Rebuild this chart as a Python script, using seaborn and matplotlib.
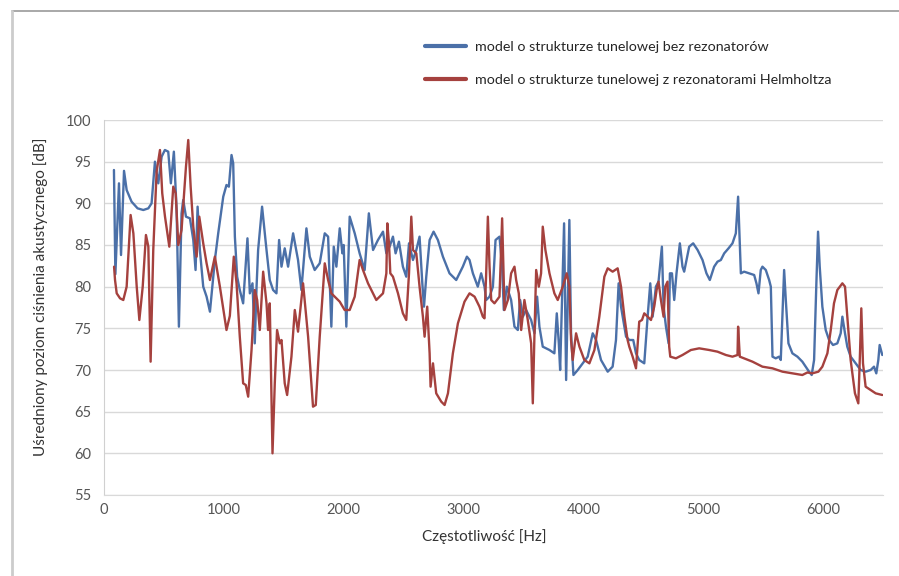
import numpy as np
import pandas as pd
import matplotlib
matplotlib.use("Agg")
import matplotlib.pyplot as plt
from matplotlib.lines import Line2D
import seaborn as sns

# ---- data ----
blue_f = [83, 95, 125, 142, 167, 189, 230, 280, 328, 370, 397, 425, 453, 481, 508, 536, 558, 583,
          606, 625, 647, 661, 684, 717, 745, 764, 781, 800, 828, 856, 884, 925, 953, 995, 1022,
          1042, 1064, 1078, 1092, 1111, 1133, 1161, 1197, 1217, 1239, 1258, 1273, 1286, 1319,
          1356, 1383, 1411, 1439, 1461, 1481, 1508, 1536, 1578, 1619, 1647, 1689, 1717, 1758,
          1800, 1842, 1870, 1897, 1917, 1939, 1967, 1989, 2000, 2022, 2050, 2092, 2133, 2175,
          2210, 2245, 2286, 2328, 2356, 2383, 2411, 2433, 2461, 2494, 2522, 2545, 2578, 2606,
          2633, 2656, 2670, 2689, 2717, 2750, 2786, 2828, 2883, 2939, 2994, 3028, 3050, 3078,
          3119, 3147, 3175, 3189, 3217, 3245, 3267, 3300, 3322, 3336, 3361, 3397, 3425, 3453,
          3472, 3495, 3522, 3564, 3592, 3614, 3633, 3661, 3717, 3758, 3778, 3795, 3806, 3822,
          3839, 3856, 3870, 3883, 3897, 3917, 3953, 3994, 4036, 4078, 4106, 4147, 4203, 4244,
          4272, 4294, 4314, 4356, 4383, 4416, 4439, 4466, 4508, 4536, 4558, 4578, 4605, 4627,
          4655, 4669, 4689, 4711, 4722, 4739, 4758, 4777, 4805, 4827, 4841, 4883, 4916, 4953,
          4994, 5027, 5055, 5091, 5119, 5147, 5175, 5211, 5244, 5272, 5291, 5314, 5341, 5383,
          5425, 5444, 5461, 5480, 5494, 5522, 5550, 5564, 5578, 5605, 5633, 5647, 5666, 5675,
          5689, 5711, 5744, 5786, 5827, 5855, 5883, 5905, 5925, 5944, 5958, 5972, 5994, 6022,
          6050, 6083, 6119, 6147, 6161, 6183, 6202, 6230, 6272, 6314, 6355, 6397, 6425, 6444,
          6461, 6472, 6494]
blue_db = [94.0, 81.5, 92.4, 83.8, 93.9, 91.6, 90.2, 89.4, 89.2, 89.4, 90.0, 95.0, 92.4, 95.6, 96.4,
           96.2, 92.4, 96.2, 89.2, 75.2, 88.8, 90.4, 88.4, 88.2, 85.6, 82.0, 89.6, 84.4, 80.0, 78.8,
           77.0, 83.2, 86.4, 90.8, 92.2, 92.0, 95.8, 94.8, 86.0, 81.2, 79.6, 78.0, 85.8, 79.2, 80.4,
           73.2, 80.0, 84.4, 89.6, 84.4, 80.8, 79.6, 79.2, 85.6, 82.4, 84.6, 82.4, 86.4, 83.2, 79.6,
           87.0, 83.6, 82.0, 82.8, 86.4, 86.0, 75.2, 84.8, 82.4, 87.0, 84.0, 85.0, 75.2, 88.4, 86.4,
           84.0, 82.0, 88.8, 84.4, 85.6, 86.6, 84.0, 84.8, 86.0, 84.0, 85.4, 82.4, 81.2, 85.2, 83.2,
           84.4, 86.0, 80.4, 77.6, 81.2, 85.6, 86.6, 85.6, 83.6, 81.6, 80.8, 82.4, 83.6, 83.2, 81.6,
           80.0, 81.6, 80.0, 78.4, 78.8, 80.0, 85.6, 86.0, 82.4, 77.2, 80.0, 78.4, 75.2, 74.8, 78.4,
           76.4, 77.2, 76.0, 74.4, 78.8, 75.2, 72.8, 72.4, 72.0, 76.8, 73.2, 70.0, 78.4, 87.6, 68.8,
           78.4, 88.0, 74.4, 69.4, 70.0, 70.8, 71.6, 74.4, 73.6, 71.2, 69.8, 70.4, 73.6, 80.4, 77.6,
           74.0, 73.6, 73.6, 72.0, 71.2, 70.8, 76.4, 80.4, 76.4, 80.0, 80.6, 84.8, 77.6, 75.2, 73.2,
           81.6, 81.6, 78.4, 81.6, 85.2, 82.4, 81.8, 84.8, 85.2, 84.4, 83.2, 81.6, 80.8, 82.4, 83.0,
           83.2, 84.0, 84.6, 85.2, 86.4, 90.8, 81.6, 81.8, 81.6, 81.4, 80.4, 79.2, 82.0, 82.4, 82.0,
           80.8, 80.0, 71.6, 71.4, 71.6, 71.2, 78.4, 82.0, 78.4, 73.2, 72.0, 71.6, 71.0, 70.4, 69.8,
           69.4, 71.2, 80.4, 86.6, 82.4, 77.6, 74.8, 73.6, 73.0, 73.2, 74.4, 76.4, 74.4, 72.8, 71.6,
           70.8, 70.0, 69.8, 70.0, 70.4, 69.6, 71.2, 73.0, 71.8]

red_f = [84, 92, 106, 134, 161, 189, 222, 245, 273, 295, 323, 350, 370, 389, 411, 439, 467, 486, 509,
         545, 578, 598, 620, 647, 684, 703, 723, 745, 773, 795, 828, 856, 884, 925, 967, 1022, 1050,
         1083, 1106, 1133, 1161, 1183, 1203, 1231, 1258, 1278, 1300, 1328, 1356, 1369, 1383, 1406,
         1425, 1444, 1467, 1481, 1508, 1528, 1564, 1592, 1619, 1661, 1703, 1744, 1767, 1800, 1842,
         1870, 1897, 1925, 1967, 2008, 2050, 2092, 2133, 2161, 2203, 2217, 2272, 2328, 2356, 2364,
         2378, 2389, 2411, 2453, 2494, 2522, 2545, 2564, 2578, 2606, 2633, 2661, 2675, 2697, 2717,
         2725, 2745, 2772, 2814, 2842, 2870, 2911, 2953, 3008, 3050, 3092, 3133, 3161, 3175, 3189,
         3203, 3217, 3231, 3258, 3300, 3322, 3333, 3342, 3370, 3397, 3425, 3439, 3461, 3481, 3508,
         3536, 3564, 3578, 3592, 3606, 3628, 3647, 3661, 3683, 3717, 3758, 3786, 3828, 3861, 3883,
         3897, 3911, 3939, 3967, 4008, 4050, 4092, 4133, 4175, 4203, 4244, 4286, 4314, 4342, 4369,
         4383, 4411, 4439, 4466, 4489, 4508, 4536, 4564, 4591, 4611, 4627, 4647, 4669, 4683, 4702,
         4716, 4725, 4772, 4827, 4897, 4966, 5050, 5119, 5189, 5244, 5286, 5291, 5305, 5341, 5411,
         5494, 5578, 5661, 5744, 5827, 5869, 5911, 5961, 5994, 6036, 6064, 6091, 6119, 6161, 6183,
         6202, 6230, 6266, 6294, 6308, 6319, 6333, 6355, 6397, 6439, 6494]
red_db = [82.4, 80.8, 79.2, 78.6, 78.4, 80.0, 88.6, 86.4, 80.0, 76.0, 80.0, 86.2, 84.8, 71.0, 84.4,
          93.8, 96.4, 91.2, 88.4, 84.8, 92.0, 91.2, 85.0, 86.8, 94.4, 97.6, 92.0, 87.2, 83.6, 88.4,
          85.2, 82.8, 80.8, 83.6, 80.0, 74.8, 76.5, 83.6, 80.4, 74.0, 68.4, 68.2, 66.8, 72.4, 79.6,
          78.4, 74.8, 81.8, 78.0, 74.8, 78.0, 60.0, 68.4, 74.8, 73.2, 73.6, 68.4, 67.0, 71.6, 77.2,
          74.6, 80.4, 74.0, 65.6, 65.8, 74.0, 82.8, 80.8, 79.2, 78.8, 78.2, 77.2, 77.2, 78.8, 83.2,
          82.0, 80.4, 80.0, 78.4, 79.2, 81.6, 87.6, 85.2, 81.6, 81.2, 79.2, 76.8, 76.0, 81.6, 88.4,
          84.4, 84.0, 80.0, 76.4, 74.0, 77.6, 72.0, 68.0, 70.8, 67.2, 66.2, 65.8, 67.2, 72.0, 75.6,
          78.2, 79.2, 78.8, 77.6, 76.4, 76.2, 81.6, 88.4, 82.4, 78.4, 78.0, 78.8, 88.2, 82.4, 77.2,
          78.4, 81.6, 82.4, 80.8, 79.2, 74.8, 78.4, 76.0, 73.2, 66.0, 74.4, 82.0, 80.0, 81.6, 87.2,
          84.4, 81.6, 79.2, 78.4, 80.0, 81.6, 80.0, 73.6, 71.2, 74.4, 72.8, 71.2, 70.8, 72.4, 76.4,
          81.2, 82.2, 81.8, 82.2, 80.0, 76.4, 73.6, 72.8, 71.6, 70.2, 75.8, 76.0, 76.8, 76.4, 76.0,
          77.6, 79.6, 80.6, 78.4, 76.4, 80.0, 80.6, 72.8, 71.6, 71.4, 71.8, 72.4, 72.6, 72.4, 72.2,
          71.8, 71.6, 71.8, 75.2, 71.6, 71.4, 71.0, 70.4, 70.2, 69.8, 69.6, 69.4, 69.7, 69.6, 69.8,
          70.4, 72.0, 74.8, 78.0, 79.6, 80.4, 80.0, 76.4, 71.2, 67.2, 66.0, 72.0, 77.4, 70.8, 68.0,
          67.6, 67.2, 67.0]

series_names = ["model o strukturze tunelowej bez rezonatorów",
                "model o strukturze tunelowej z rezonatorami Helmholtza"]
x_ticks = [0, 1000, 2000, 3000, 4000, 5000, 6000]
y_ticks = [55, 60, 65, 70, 75, 80, 85, 90, 95, 100]
x_label = "Częstotliwość [Hz]"
y_label = "Uśredniony poziom ciśnienia akustycznego [dB]"

colors = ["#4b70a8", "#a5413e"]

# ---- styling ----
sns.set_style("white")
plt.rcParams["font.family"] = ["Lato", "DejaVu Sans"]

fig = plt.figure(figsize=(8.99, 5.76), dpi=100)
ax = fig.add_axes([104 / 899, 1 - 495 / 576, (883 - 104) / 899, (495 - 120) / 576])

df_blue = pd.DataFrame({"f": blue_f, "db": blue_db})
df_red = pd.DataFrame({"f": red_f, "db": red_db})
sns.lineplot(data=df_blue, x="f", y="db", color=colors[0], linewidth=1.7, ax=ax,
             estimator=None, sort=False)
sns.lineplot(data=df_red, x="f", y="db", color=colors[1], linewidth=1.7, ax=ax,
             estimator=None, sort=False)

ax.set_xlim(0, 6500)
ax.set_ylim(55, 100)
ax.set_xticks(x_ticks)
ax.set_yticks(y_ticks)
ax.yaxis.grid(True, color="#d9d9d9", linewidth=1.0)
ax.xaxis.grid(False)
ax.set_axisbelow(True)
for s in ["top", "right"]:
    ax.spines[s].set_visible(False)
ax.spines["left"].set_color("#d0d0d0")
ax.spines["bottom"].set_color("#d9d9d9")
ax.tick_params(axis="both", colors="#d0d0d0", labelcolor="#555555", labelsize=10.5,
               length=4, width=1, direction="out")
ax.tick_params(axis="y", pad=5)
ax.tick_params(axis="x", pad=2)

ax.set_xlabel(x_label, fontsize=11, color="#333333")
ax.set_ylabel(y_label, fontsize=11, color="#333333")
ax.xaxis.set_label_coords((484 - 104) / 779, -34 / 375)
ax.yaxis.set_label_coords(-56 / 779, (495 - 297) / 375)

handles = [Line2D([0], [0], color=c, linewidth=3) for c in colors]
fig.legend(handles, series_names, loc="upper left", bbox_to_anchor=(425 / 899, 1 - 41 / 576),
           frameon=False, fontsize=10.3, handlelength=2.9, handletextpad=0.6,
           labelspacing=1.45, borderpad=0, borderaxespad=0, labelcolor="#262626")

# figure frame lines (top and left)
fig.add_artist(Line2D([12 / 899, 1], [1 - 11 / 576, 1 - 11 / 576], transform=fig.transFigure,
                      color="#999999", linewidth=1.2))
fig.add_artist(Line2D([12 / 899, 12 / 899], [0, 1 - 11 / 576], transform=fig.transFigure,
                      color="#cccccc", linewidth=2))

fig.savefig("out.png", dpi=100)
